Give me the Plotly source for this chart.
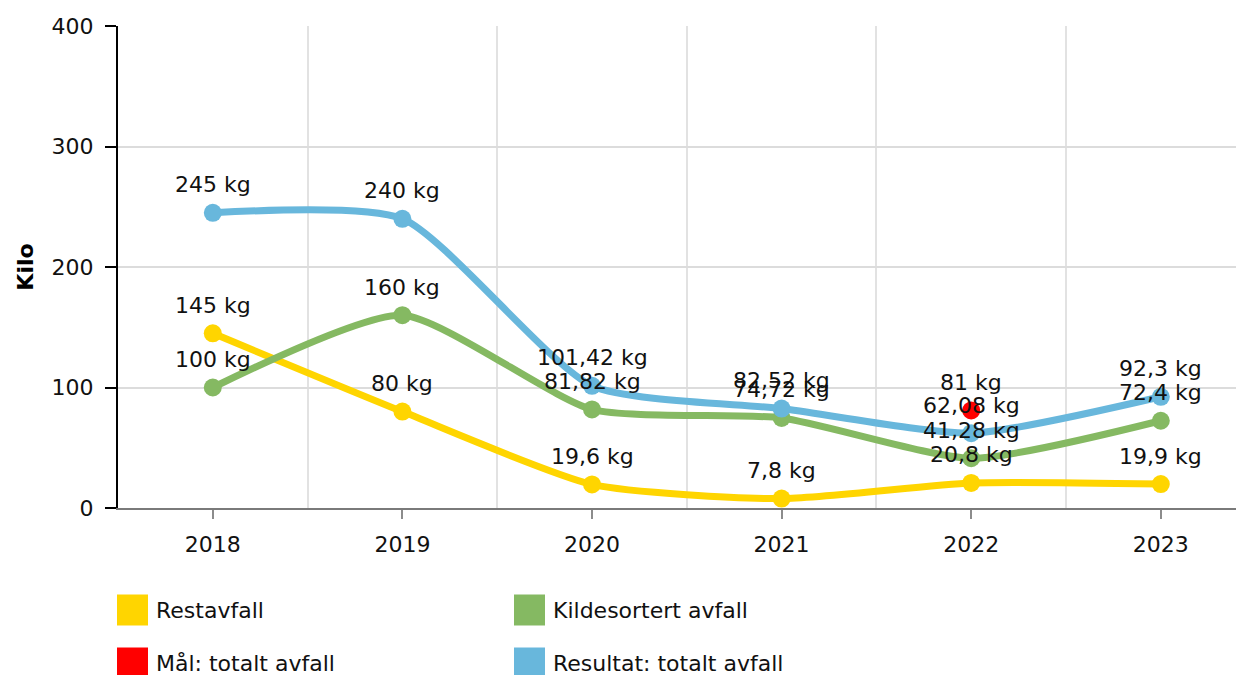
import plotly.graph_objects as go

# --- data ---
years = ["2018", "2019", "2020", "2021", "2022", "2023"]
restavfall = [145, 80, 19.6, 7.8, 20.8, 19.9]
kildesortert = [100, 160, 81.82, 74.72, 41.28, 72.4]
maal_totalt = [None, None, None, None, 81, None]
resultat_totalt = [245, 240, 101.42, 82.52, 62.08, 92.3]

series_names = ["Restavfall", "Kildesortert avfall", "Mål: totalt avfall", "Resultat: totalt avfall"]
series_values = [restavfall, kildesortert, maal_totalt, resultat_totalt]
series_colors = ["#FFD500", "#85B962", "#FF0000", "#68B7DC"]
series_lines = [True, True, False, True]
y_ticks = [0, 100, 200, 300, 400]

FONT = "DejaVu Sans, Verdana, sans-serif"
OFF = 8  # page body margin around the figure
W, H = 1244 - OFF, 675 - OFF
# plot area in window pixels
PLOT_L, PLOT_R, PLOT_T, PLOT_B = 118, 1244, 26, 508
STEP = 189.6  # px per category


def fmt_kg(v):
    return f"{v:g}".replace(".", ",") + " kg"


def px_x(px):
    return (px - PLOT_L) / (PLOT_R - PLOT_L)


def px_y(py):
    return (PLOT_B - py) / (PLOT_B - PLOT_T)


x_idx = list(range(len(years)))

fig = go.Figure()

for name, vals, color, has_line in zip(series_names, series_values, series_colors, series_lines):
    fig.add_trace(
        go.Scatter(
            x=x_idx,
            y=vals,
            name=name,
            mode="lines+markers" if has_line else "markers",
            line=dict(color=color, width=7, shape="spline", smoothing=0.6),
            marker=dict(color=color, size=18),
            showlegend=False,
            connectgaps=False,
        )
    )

annotations = []
for vals in series_values:
    for i, v in enumerate(vals):
        if v is None:
            continue
        annotations.append(
            dict(
                x=i, y=v, xref="x", yref="y",
                text=fmt_kg(v),
                showarrow=False,
                yshift=28,
                yanchor="middle",
                font=dict(family=FONT, size=22, color="#111111"),
            )
        )

# custom legend: big squares in two columns
shapes = []
legend_cols = [117, 514]
legend_rows = [610, 663]
for k, (name, color) in enumerate(zip(series_names, series_colors)):
    col_px = legend_cols[k % 2]
    row_px = legend_rows[k // 2]
    shapes.append(
        dict(
            type="rect", xref="paper", yref="paper",
            x0=px_x(col_px), x1=px_x(col_px + 31),
            y0=px_y(row_px + 15.5), y1=px_y(row_px - 15.5),
            fillcolor=color, line=dict(width=0),
        )
    )
    annotations.append(
        dict(
            x=px_x(col_px + 37), y=px_y(row_px), xref="paper", yref="paper",
            text=name, showarrow=False, xanchor="left", yanchor="middle",
            font=dict(family=FONT, size=22, color="#111111"),
        )
    )

x_right = -0.5 + (PLOT_R - PLOT_L) / STEP

fig.update_layout(
    width=W,
    height=H,
    template="none",
    paper_bgcolor="white",
    plot_bgcolor="white",
    margin=dict(
        l=PLOT_L - OFF, r=W - (PLOT_R - OFF), t=PLOT_T - OFF, b=H - (PLOT_B - OFF), autoexpand=False
    ),
    font=dict(family=FONT, size=22, color="#111111"),
    showlegend=False,
    annotations=annotations,
    shapes=shapes,
    xaxis=dict(
        range=[-0.5, x_right],
        tickmode="array",
        tickvals=x_idx,
        ticktext=years,
        ticks="outside",
        ticklen=9,
        tickwidth=2,
        tickcolor="#8C8C8C",
        ticklabelstandoff=7,
        showgrid=False,
        zeroline=False,
        showline=True,
        linecolor="#7A7A7A",
        linewidth=2,
        minor=dict(tick0=0.5, dtick=1, showgrid=True, gridcolor="#E2E2E2", gridwidth=1.5, ticks=""),
        tickfont=dict(family=FONT, size=22, color="#111111"),
        automargin=False,
        fixedrange=True,
    ),
    yaxis=dict(
        range=[0, 400],
        tickmode="array",
        tickvals=y_ticks,
        ticktext=[str(t) for t in y_ticks],
        ticks="outside",
        ticklen=11,
        tickwidth=2,
        tickcolor="#000000",
        ticklabelstandoff=7,
        showgrid=True,
        gridcolor="#DCDCDC",
        gridwidth=1.5,
        zeroline=False,
        showline=True,
        linecolor="#000000",
        linewidth=2,
        tickfont=dict(family=FONT, size=22, color="#111111"),
        title=dict(text="Kilo", font=dict(family=FONT, size=22, color="#000000", weight="bold"), standoff=12),
        automargin=False,
        fixedrange=True,
    ),
)

fig.write_html("out.html")
